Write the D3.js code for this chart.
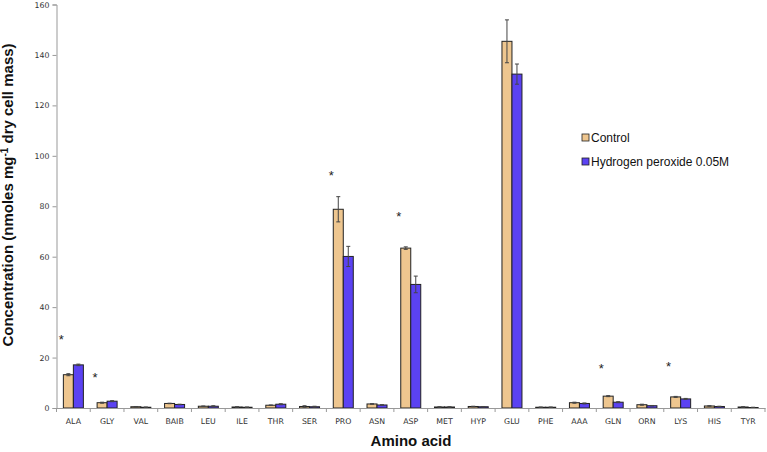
<!DOCTYPE html>
<html><head><meta charset="utf-8">
<script src="https://cdn.jsdelivr.net/npm/d3@7"></script>
<style>body{margin:0;background:#fff}svg{display:block}</style>
</head><body>
<script>
const categories = ["ALA","GLY","VAL","BAIB","LEU","ILE","THR","SER","PRO","ASN","ASP","MET","HYP","GLU","PHE","AAA","GLN","ORN","LYS","HIS","TYR"];
const seriesNames = ["Control","Hydrogen peroxide 0.05M"];
const controlValues = [13.2,2.1,0.5,1.8,0.7,0.4,1.1,0.6,78.8,1.6,63.4,0.4,0.6,145.4,0.3,2.1,4.7,1.3,4.4,0.8,0.4];
const controlErrors = [0.4,0.2,0.1,0.1,0.1,0.1,0.1,0.3,5.0,0.1,0.5,0.1,0.1,8.5,0.1,0.2,0.2,0.2,0.2,0.1,0.1];
const peroxideValues = [17.1,2.7,0.3,1.4,0.7,0.3,1.5,0.5,60.1,1.2,49.0,0.4,0.5,132.4,0.3,1.8,2.3,0.9,3.6,0.6,0.2];
const peroxideErrors = [0.3,0.2,0.1,0.1,0.2,0.1,0.2,0.2,4.0,0.1,3.3,0.1,0.1,4.0,0.1,0.2,0.2,0.1,0.2,0.1,0.1];
const yTicks = [0,20,40,60,80,100,120,140,160];
const starCategories = ["ALA","GLY","PRO","ASP","GLN","LYS"];
const starValues = [27.6,12.6,92.8,76.4,16.2,16.9];

const W=767,H=452;
const m={left:56.5,right:765,top:4.5,bottom:408};
const colors=["#eec68f","#5b42f2"];
const svg=d3.select("body").append("svg").attr("width",W).attr("height",H);

const x=d3.scaleBand().domain(categories).range([m.left,m.right]).paddingInner(0).paddingOuter(0);
const y=d3.scaleLinear().domain([0,160]).range([m.bottom,m.top]);
const barW=10;

const series=[[controlValues,controlErrors],[peroxideValues,peroxideErrors]];
series.forEach(([vals,errs],si)=>{
  const g=svg.append("g");
  const xc=c=>x(c)+x.bandwidth()/2+(si===0?-barW:0);
  g.selectAll("rect").data(categories).join("rect")
    .attr("x",c=>xc(c)).attr("width",barW)
    .attr("y",(c,i)=>y(vals[i])).attr("height",(c,i)=>y(0)-y(vals[i]))
    .attr("fill",colors[si]).attr("stroke","#222").attr("stroke-width",1);
  const eg=svg.append("g").attr("stroke","#444").attr("stroke-width",1);
  categories.forEach((c,i)=>{
    const cx=xc(c)+barW/2;
    const t=y(vals[i]+errs[i]), b=y(Math.max(0,vals[i]-errs[i]));
    eg.append("line").attr("x1",cx).attr("x2",cx).attr("y1",t).attr("y2",b);
    eg.append("line").attr("x1",cx-2).attr("x2",cx+2).attr("y1",t).attr("y2",t);
    eg.append("line").attr("x1",cx-2).attr("x2",cx+2).attr("y1",b).attr("y2",b);
  });
});

const ya=svg.append("g").attr("transform",`translate(${m.left},0)`)
  .call(d3.axisLeft(y).tickValues(yTicks).tickSize(4).tickPadding(3));
ya.selectAll("path,line").attr("stroke","#999");
ya.selectAll("text").attr("font-family","DejaVu Sans, Verdana, sans-serif").attr("font-size",7.8).attr("fill","#333");

const xa=svg.append("g").attr("transform",`translate(0,${m.bottom})`)
  .call(d3.axisBottom(x).tickSize(0).tickPadding(10));
xa.select("path").attr("stroke","#999");
xa.selectAll("text").attr("font-family","DejaVu Sans, Verdana, sans-serif").attr("font-size",7.8).attr("fill","#333");
const bounds=categories.map(c=>x(c)).concat([m.right]);
svg.append("g").selectAll("line").data(bounds).join("line")
  .attr("x1",d=>d).attr("x2",d=>d).attr("y1",m.bottom).attr("y2",m.bottom+4).attr("stroke","#999");

svg.append("g").selectAll("text").data(starCategories).join("text")
  .attr("x",c=>x(c)+x.bandwidth()/2-12).attr("y",(c,i)=>y(starValues[i])+6)
  .attr("text-anchor","middle").attr("font-family","Liberation Sans, Arial, sans-serif")
  .attr("font-size",13).attr("fill","#222").text("*");

svg.append("text").attr("transform","translate(13,195) rotate(-90)").attr("text-anchor","middle")
  .attr("font-family","Liberation Sans, Arial, sans-serif").attr("font-weight","bold").attr("font-size",15).attr("fill","#111")
  .html('Concentration (nmoles mg<tspan baseline-shift="super" font-size="10">-1</tspan> dry cell mass)');
svg.append("text").attr("x",411).attr("y",446).attr("text-anchor","middle")
  .attr("font-family","Liberation Sans, Arial, sans-serif").attr("font-weight","bold").attr("font-size",15).attr("fill","#111")
  .text("Amino acid");

const lg=svg.append("g");
seriesNames.forEach((n,i)=>{
  const yy=138+i*24;
  lg.append("rect").attr("x",582).attr("y",yy-4).attr("width",7).attr("height",7).attr("fill",colors[i]).attr("stroke","#222").attr("stroke-width",0.8);
  lg.append("text").attr("x",591).attr("y",yy+4).attr("font-family","Liberation Sans, Arial, sans-serif").attr("font-size",12).attr("fill","#111").text(n);
});
</script>
</body></html>
